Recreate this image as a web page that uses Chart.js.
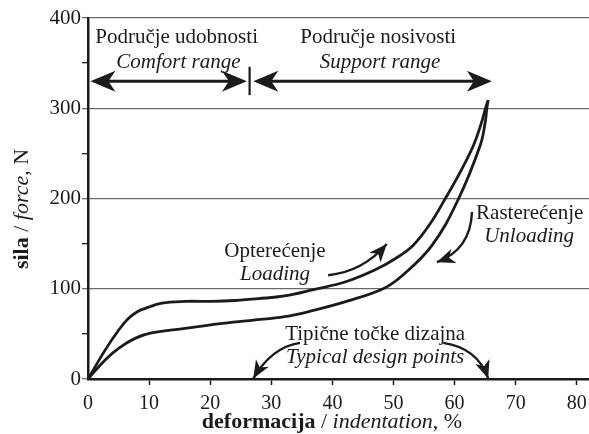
<!DOCTYPE html>
<html>
<head>
<meta charset="utf-8">
<script src="https://cdn.jsdelivr.net/npm/chart.js@4.4.1/dist/chart.umd.min.js"></script>
<style>
  html, body { margin: 0; padding: 0; background: #fff; }
  #wrap { width: 589px; height: 434px; position: relative; }
</style>
</head>
<body>
<div id="wrap"><canvas id="chart"></canvas></div>
<script>
// Values (indentation %, force N)
const loadX = [0, 2.8, 5.0, 6.6, 8.2, 9.3, 12.1, 15.9, 20.2, 24.1, 27.9, 32.2, 36.9, 42.3, 47.0, 50.2, 53.2, 56.0, 58.4, 60.9, 63.1, 64.4, 65.1, 65.5];
const loadY = [0, 32, 54, 67, 75, 78, 84, 86, 86, 87, 89, 92, 99, 108, 121, 133, 148, 172, 199, 229, 259, 284, 301, 309];
const unloadX = [0, 2.8, 5.0, 7.7, 10.4, 15.9, 21.3, 26.8, 32.2, 36.9, 42.3, 48.3, 51.5, 56.3, 60.6, 64.2, 65.0, 65.3, 65.5];
const unloadY = [0, 21, 34, 45, 51, 56, 61, 65, 69, 76, 86, 100, 115, 148, 199, 259, 284, 301, 309];
const xTicks = [0, 10, 20, 30, 40, 50, 60, 70, 80];
const yTicks = [0, 50, 100, 150, 200, 250, 300, 350, 400];

const INK = '#1c1a1a';
const GRIDC = '#6a6a6a';
const SERIF = '"Liberation Serif", "Times New Roman", serif';

function toPoints(xs, ys) {
    return xs.map((x, i) => ({ x: x, y: ys[i] }));
}

// filled, slightly notched arrow head
function arrowHead(ctx, tx, ty, ang, len, half) {
    const cx = Math.cos(ang), sy = Math.sin(ang);
    const bx = tx - len * cx, by = ty - len * sy;
    const nx = tx - len * 0.72 * cx, ny = ty - len * 0.72 * sy;
    ctx.beginPath();
    ctx.moveTo(tx, ty);
    ctx.lineTo(bx - half * sy, by + half * cx);
    ctx.lineTo(nx, ny);
    ctx.lineTo(bx + half * sy, by - half * cx);
    ctx.closePath();
    ctx.fill();
}

function curvedArrow(ctx, p0, c, p1) {
    ctx.beginPath();
    ctx.moveTo(p0[0], p0[1]);
    ctx.quadraticCurveTo(c[0], c[1], p1[0], p1[1]);
    ctx.stroke();
    arrowHead(ctx, p1[0], p1[1], Math.atan2(p1[1] - c[1], p1[0] - c[0]), 18, 7.5);
}

function rich(ctx, parts, cx, cy) {
    let total = 0;
    parts.forEach(p => { ctx.font = p[1]; total += ctx.measureText(p[0]).width; });
    let x = cx - total / 2;
    ctx.textAlign = 'left';
    parts.forEach(p => {
        ctx.font = p[1];
        ctx.fillText(p[0], x, cy);
        x += ctx.measureText(p[0]).width;
    });
}

const notes = {
    id: 'notes',
    afterDraw(chart) {
        const { ctx, chartArea: a, scales } = chart;
        const X = v => scales.x.getPixelForValue(v);
        const Y = v => scales.y.getPixelForValue(v);
        const P = (x, y) => [X(x), Y(y)];
        const reg = '21px ' + SERIF, ita = 'italic 21px ' + SERIF;

        ctx.save();
        ctx.fillStyle = INK;
        ctx.strokeStyle = INK;
        ctx.textAlign = 'center';
        ctx.textBaseline = 'alphabetic';

        // range labels
        ctx.font = reg;
        ctx.fillText('Područje udobnosti', X(14.5), Y(372));
        ctx.fillText('Područje nosivosti', X(47.5), Y(372));
        ctx.font = ita;
        ctx.fillText('Comfort range', X(14.8), Y(344.5));
        ctx.fillText('Support range', X(47.8), Y(344.5));

        // range arrows
        ctx.lineWidth = 3;
        const ay = Y(330);
        [[0.4, 26.0], [27.05, 66.1]].forEach(r => {
            const l = X(r[0]), rr = X(r[1]);
            ctx.beginPath();
            ctx.moveTo(l + 15, ay);
            ctx.lineTo(rr - 15, ay);
            ctx.stroke();
            arrowHead(ctx, l, ay, Math.PI, 25, 10.5);
            arrowHead(ctx, rr, ay, 0, 25, 10.5);
        });
        ctx.lineWidth = 2.2;
        ctx.beginPath();
        ctx.moveTo(X(26.45), Y(346));
        ctx.lineTo(X(26.45), Y(314.5));
        ctx.stroke();

        // curve labels
        ctx.font = reg;
        ctx.fillText('Opterećenje', X(30.6), Y(135));
        ctx.fillText('Rasterećenje', X(72.3), Y(177));
        ctx.fillText('Tipične točke dizajna', X(47.0), Y(43));
        ctx.font = ita;
        ctx.fillText('Loading', X(30.6), Y(109.5));
        ctx.fillText('Unloading', X(72.2), Y(152));
        ctx.fillText('Typical design points', X(47.0), Y(17.5));

        // pointer arrows
        ctx.lineWidth = 2.4;
        curvedArrow(ctx, P(39.3, 115), P(44.9, 118.5), P(48.9, 149.5));
        curvedArrow(ctx, P(62.85, 185), P(62.6, 143), P(57.1, 129.5));
        curvedArrow(ctx, P(34.7, 40), P(30.1, 35.5), P(27.05, 0.5));
        curvedArrow(ctx, P(58.15, 40), P(63.8, 34.3), P(65.5, 0.5));

        // axis titles, mixed styles
        const tb = 'bold 22px ' + SERIF, tr = '22px ' + SERIF, ti = 'italic 22px ' + SERIF;
        rich(ctx, [['deformacija', tb], [' / ', tr], ['indentation', ti], [', %', tr]], 332, a.bottom + 49);

        ctx.translate(22, 209);
        ctx.rotate(-Math.PI / 2);
        ctx.textBaseline = 'middle';
        rich(ctx, [['sila', tb], [' / ', tr], ['force', ti], [', N', tr]], 0, 0);
        ctx.restore();
    }
};

new Chart(document.getElementById('chart'), {
    type: 'line',
    data: {
        datasets: [
            {
                label: 'Opterećenje / Loading',
                data: toPoints(loadX, loadY),
                borderColor: INK,
                borderWidth: 2.8,
                pointRadius: 0,
                tension: 0.4,
                fill: false
            },
            {
                label: 'Rasterećenje / Unloading',
                data: toPoints(unloadX, unloadY),
                borderColor: INK,
                borderWidth: 2.8,
                pointRadius: 0,
                tension: 0.4,
                fill: false
            }
        ]
    },
    options: {
        responsive: true,
        maintainAspectRatio: false,
        animation: false,
        layout: { padding: { top: 18, right: 0, left: 0, bottom: 0 } },
        plugins: { legend: { display: false }, tooltip: { enabled: false } },
        scales: {
            x: {
                type: 'linear',
                min: 0,
                max: 82,
                afterBuildTicks: s => { s.ticks = xTicks.map(v => ({ value: v })); },
                afterFit: s => { s.height = 55; s.paddingLeft = 0; s.paddingRight = 0; },
                ticks: { font: { family: SERIF, size: 20 }, color: INK, padding: 7, maxRotation: 0, autoSkip: false },
                grid: {
                    drawOnChartArea: false,
                    tickLength: 6,
                    tickWidth: 1.5,
                    tickColor: c => (c.tick && c.tick.value === 0) ? 'rgba(0,0,0,0)' : INK
                },
                border: { color: INK, width: 2.5 }
            },
            y: {
                type: 'linear',
                min: 0,
                max: 400,
                afterBuildTicks: s => { s.ticks = yTicks.map(v => ({ value: v })); },
                afterFit: s => { s.width = 88; },
                ticks: {
                    font: { family: SERIF, size: 21 },
                    color: INK,
                    padding: 1,
                    callback: v => (v % 100 === 0 ? v : '')
                },
                grid: {
                    lineWidth: 1.3,
                    tickLength: 6,
                    tickWidth: 1.3,
                    color: c => (c.tick && c.tick.value % 100 === 0) ? GRIDC : 'rgba(0,0,0,0)',
                    tickColor: c => (c.tick && c.tick.value % 100 === 0) ? GRIDC : INK
                },
                border: { color: INK, width: 2.5 }
            }
        }
    },
    plugins: [notes]
});
</script>
</body>
</html>
